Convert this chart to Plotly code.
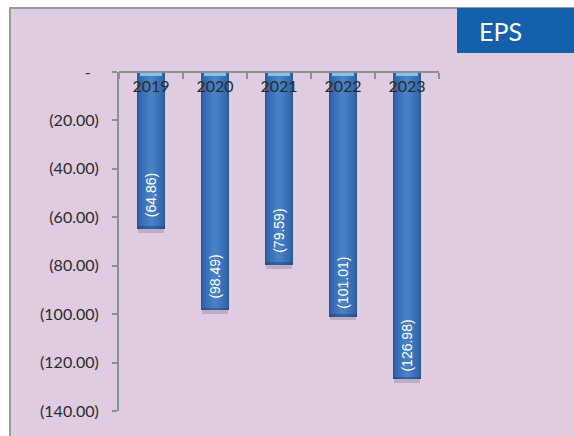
import plotly.graph_objects as go

# Earnings per share by year (negative values = losses)
years = ["2019", "2020", "2021", "2022", "2023"]
eps = [-64.86, -98.49, -79.59, -101.01, -126.98]
y_ticks = [0, -20, -40, -60, -80, -100, -120, -140]

W, H = 574, 436
ML, MR, MT, MB = 119, 135, 72, 25
PW, PH = W - ML - MR, H - MT - MB


def px_x(px):
    return (px - ML) / PW


def px_y(py):
    return (H - MB - py) / PH


def acct(v):
    # accounting style: losses in parentheses, zero as a dash
    if v == 0:
        return "-" + "\u00a0" * 2
    return f"({abs(v):.2f})"


fig = go.Figure()

# soft shadow under each column
fig.add_trace(go.Bar(x=years, y=[-1.6 for _ in years], base=eps, width=0.40,
                     marker=dict(color="rgba(70,60,100,0.22)", line=dict(width=0)),
                     hoverinfo="skip", showlegend=False))

# cylinder-like shading: stacked narrower bars with lighter tones
layers = [(0.43, "#2a5999"), (0.40, "#2f60a3"), (0.36, "#3467ab"), (0.31, "#386db2"),
          (0.26, "#3c72b8"), (0.20, "#4078bd"), (0.13, "#447dc1"), (0.06, "#4881c5")]
for w, c in layers:
    fig.add_trace(go.Bar(x=years, y=eps, width=w, marker=dict(color=c, line=dict(width=0)),
                         hoverinfo="skip", showlegend=False))
# darker lower edge of each column
fig.add_trace(go.Bar(x=years, y=[1.2 for _ in years], base=eps, width=0.43,
                     marker=dict(color="rgba(30,60,110,0.45)", line=dict(width=0)),
                     hoverinfo="skip", showlegend=False))
# light top rim of each column
fig.add_trace(go.Bar(x=years, y=[-1.8 for _ in years], width=0.34,
                     marker=dict(color="#86c0ee", line=dict(width=0)),
                     hoverinfo="skip", showlegend=False))

for i, v in enumerate(eps):
    fig.add_annotation(x=i, y=v + 14, text=acct(v), textangle=-90, showarrow=False,
                       font=dict(family="Liberation Sans", size=14, color="white"),
                       xanchor="center", yanchor="middle")

# background panel and title box
fig.add_shape(type="rect", xref="paper", yref="paper",
              x0=px_x(10), x1=px_x(590), y0=px_y(450), y1=px_y(8),
              fillcolor="#dfcce1", line=dict(color="#9a9a9a", width=2), layer="below")
fig.add_shape(type="rect", xref="paper", yref="paper",
              x0=px_x(457), x1=px_x(590), y0=px_y(53), y1=px_y(8),
              fillcolor="#1560ad", line=dict(width=0), layer="below")
fig.add_annotation(xref="paper", yref="paper", x=px_x(500), y=px_y(31), text="EPS",
                   showarrow=False, font=dict(family="Lato", size=25, color="white"),
                   xanchor="center", yanchor="middle")

fig.update_layout(
    width=W, height=H, autosize=False,
    margin=dict(l=ML, r=MR, t=MT, b=MB, pad=0),
    paper_bgcolor="white", plot_bgcolor="rgba(0,0,0,0)",
    barmode="overlay", bargap=0,
    xaxis=dict(type="category", categoryorder="array", categoryarray=years,
               range=[-0.5, 4.5], anchor="free", position=1, side="bottom",
               showline=True, linecolor="#8f8f8f", linewidth=2,
               ticks="outside", ticklen=6, tickwidth=2, tickcolor="#8f8f8f",
               tickson="boundaries", showgrid=False,
               tickfont=dict(family="Lato", size=16, color="#2b2b2b")),
    yaxis=dict(range=[-140, 0], tickvals=y_ticks, ticktext=[acct(v) for v in y_ticks],
               showline=True, linecolor="#8f8f8f", linewidth=2,
               ticks="outside", ticklen=5, tickwidth=2, tickcolor="#8f8f8f",
               ticklabelstandoff=10, showgrid=False, zeroline=False,
               tickfont=dict(family="Lato", size=16, color="#2b2b2b")),
)

fig.write_html("out.html")
